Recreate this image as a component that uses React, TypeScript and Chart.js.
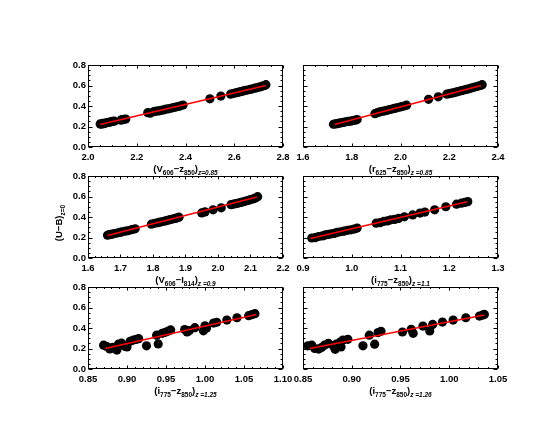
import React, { useEffect, useRef } from "react";
import { Chart, registerables } from "chart.js";

Chart.register(...registerables);

// ---------- Data ----------
// Panel 1: (V606 - z850) z=0.85
const p1X = [2.050, 2.055, 2.060, 2.065, 2.070, 2.078, 2.085, 2.092, 2.100, 2.108, 2.135, 2.140, 2.148, 2.155, 2.245, 2.255, 2.270, 2.280, 2.290, 2.300, 2.310, 2.320, 2.330, 2.340, 2.350, 2.360, 2.370, 2.380, 2.390, 2.500, 2.545, 2.585, 2.595, 2.605, 2.615, 2.625, 2.635, 2.645, 2.655, 2.665, 2.675, 2.685, 2.695, 2.705, 2.715, 2.725, 2.730];
const p1Y = [0.225, 0.222, 0.230, 0.228, 0.232, 0.238, 0.240, 0.245, 0.250, 0.252, 0.262, 0.268, 0.270, 0.272, 0.335, 0.330, 0.345, 0.350, 0.352, 0.358, 0.362, 0.370, 0.372, 0.378, 0.385, 0.390, 0.395, 0.402, 0.410, 0.470, 0.497, 0.515, 0.522, 0.528, 0.532, 0.540, 0.545, 0.552, 0.556, 0.562, 0.568, 0.574, 0.580, 0.586, 0.593, 0.600, 0.608];
const p1FitX = [2.05, 2.73];
const p1FitY = [0.22, 0.60];
const p1XTicks = [2.0, 2.2, 2.4, 2.6, 2.8];

// Panel 2: (r625 - z850) z=0.85
const p2X = [1.725, 1.732, 1.740, 1.748, 1.756, 1.765, 1.775, 1.785, 1.795, 1.805, 1.815, 1.822, 1.895, 1.905, 1.915, 1.925, 1.935, 1.945, 1.955, 1.965, 1.975, 1.985, 1.995, 2.005, 2.015, 2.025, 2.115, 2.155, 2.190, 2.200, 2.210, 2.220, 2.230, 2.240, 2.250, 2.260, 2.270, 2.280, 2.290, 2.300, 2.310, 2.320, 2.330, 2.335];
const p2Y = [0.222, 0.225, 0.228, 0.232, 0.236, 0.240, 0.246, 0.250, 0.252, 0.258, 0.262, 0.268, 0.325, 0.335, 0.342, 0.348, 0.352, 0.358, 0.365, 0.370, 0.376, 0.382, 0.388, 0.394, 0.400, 0.408, 0.465, 0.490, 0.515, 0.520, 0.525, 0.530, 0.537, 0.543, 0.550, 0.556, 0.562, 0.568, 0.575, 0.582, 0.588, 0.595, 0.602, 0.608];
const p2FitX = [1.73, 2.33];
const p2FitY = [0.22, 0.60];
const p2XTicks = [1.6, 1.8, 2.0, 2.2, 2.4];

// Panel 3: (V606 - I814) z=0.9
const p3X = [1.660, 1.665, 1.670, 1.675, 1.682, 1.690, 1.698, 1.705, 1.715, 1.725, 1.735, 1.745, 1.795, 1.805, 1.815, 1.822, 1.830, 1.838, 1.845, 1.852, 1.860, 1.868, 1.875, 1.880, 1.950, 1.960, 1.985, 2.010, 2.040, 2.048, 2.055, 2.063, 2.070, 2.078, 2.085, 2.093, 2.100, 2.108, 2.115, 2.122];
const p3Y = [0.222, 0.228, 0.230, 0.233, 0.238, 0.244, 0.250, 0.255, 0.262, 0.268, 0.276, 0.285, 0.330, 0.338, 0.345, 0.350, 0.356, 0.362, 0.368, 0.374, 0.380, 0.386, 0.392, 0.398, 0.440, 0.450, 0.470, 0.490, 0.520, 0.526, 0.530, 0.536, 0.542, 0.548, 0.555, 0.562, 0.570, 0.576, 0.585, 0.598];
const p3FitX = [1.66, 2.12];
const p3FitY = [0.22, 0.595];
const p3XTicks = [1.6, 1.7, 1.8, 1.9, 2.0, 2.1, 2.2];

// Panel 4: (i775 - z850) z=1.1
const p4X = [0.918, 0.925, 0.932, 0.940, 0.946, 0.952, 0.958, 0.964, 0.970, 0.977, 0.984, 0.991, 0.998, 1.005, 1.011, 1.050, 1.058, 1.066, 1.073, 1.080, 1.088, 1.096, 1.108, 1.125, 1.140, 1.150, 1.170, 1.193, 1.215, 1.225, 1.232, 1.238];
const p4Y = [0.195, 0.198, 0.210, 0.215, 0.225, 0.230, 0.236, 0.240, 0.250, 0.256, 0.262, 0.270, 0.275, 0.282, 0.292, 0.340, 0.345, 0.358, 0.362, 0.372, 0.376, 0.386, 0.402, 0.420, 0.438, 0.448, 0.470, 0.500, 0.525, 0.535, 0.542, 0.550];
const p4FitX = [0.915, 1.237];
const p4FitY = [0.19, 0.549];
const p4XTicks = [0.9, 1.0, 1.1, 1.2, 1.3];

// Panel 5: (i775 - z850) z=1.25
const p5X = [0.870, 0.874, 0.878, 0.882, 0.887, 0.889, 0.893, 0.897, 0.900, 0.904, 0.908, 0.912, 0.915, 0.925, 0.938, 0.940, 0.945, 0.949, 0.953, 0.956, 0.974, 0.977, 0.980, 0.987, 0.998, 1.000, 1.002, 1.011, 1.015, 1.028, 1.041, 1.056, 1.060, 1.064];
const p5Y = [0.232, 0.219, 0.196, 0.212, 0.185, 0.242, 0.252, 0.222, 0.215, 0.270, 0.282, 0.290, 0.296, 0.226, 0.330, 0.245, 0.348, 0.358, 0.370, 0.381, 0.385, 0.362, 0.375, 0.403, 0.372, 0.422, 0.400, 0.448, 0.456, 0.477, 0.500, 0.520, 0.530, 0.540];
const p5FitX = [0.872, 1.066];
const p5FitY = [0.20, 0.532];
const p5XTicks = [0.85, 0.90, 0.95, 1.00, 1.05, 1.10];

// Panel 6: (i775 - z850) z=1.26
const p6X = [0.855, 0.859, 0.862, 0.866, 0.869, 0.872, 0.876, 0.881, 0.883, 0.884, 0.888, 0.889, 0.891, 0.896, 0.9115, 0.918, 0.9235, 0.927, 0.930, 0.952, 0.961, 0.963, 0.973, 0.980, 0.983, 0.993, 1.004, 1.017, 1.031, 1.034, 1.036];
const p6Y = [0.226, 0.232, 0.200, 0.194, 0.210, 0.232, 0.250, 0.226, 0.192, 0.242, 0.262, 0.215, 0.282, 0.290, 0.226, 0.330, 0.242, 0.355, 0.368, 0.361, 0.387, 0.348, 0.419, 0.371, 0.435, 0.458, 0.477, 0.500, 0.516, 0.525, 0.532];
const p6FitX = [0.857, 1.036];
const p6FitY = [0.20, 0.526];
const p6XTicks = [0.85, 0.90, 0.95, 1.00, 1.05];

const yTicks = [0.0, 0.2, 0.4, 0.6, 0.8];

// ---------- Layout / style ----------
const FONT = '"Liberation Sans", Arial, Helvetica, sans-serif';
const LABEL_SIZE = 9.5;
const SUB_SIZE = 6.5;
const PANEL_W = 195;
const PANEL_H = 82;
const PAD_L = 45;
const PAD_T = 8;
const PAD_R = 20;
const AXIS_H = 40;

type Seg = { t: string; sub?: boolean; it?: boolean };

type PanelCfg = {
  left: number;
  top: number;
  xs: number[];
  ys: number[];
  fitX: number[];
  fitY: number[];
  xTicks: number[];
  xMinor: number;
  dec: number;
  showY: boolean;
  title: Seg[];
  yTitle?: Seg[];
};

const yTitleSegs: Seg[] = [{ t: "(U\u2212B)" }, { t: "z=0", sub: true }];

const panels: PanelCfg[] = [
  {
    left: 88, top: 65, xs: p1X, ys: p1Y, fitX: p1FitX, fitY: p1FitY, xTicks: p1XTicks, xMinor: 4, dec: 1, showY: true,
    title: [{ t: "(V" }, { t: "606", sub: true }, { t: "\u2212z" }, { t: "850", sub: true }, { t: ")" }, { t: "z=0.85", sub: true, it: true }],
  },
  {
    left: 303, top: 65, xs: p2X, ys: p2Y, fitX: p2FitX, fitY: p2FitY, xTicks: p2XTicks, xMinor: 4, dec: 1, showY: false,
    title: [{ t: "(r" }, { t: "625", sub: true }, { t: "\u2212z" }, { t: "850", sub: true }, { t: ")" }, { t: "z =0.85", sub: true, it: true }],
  },
  {
    left: 88, top: 176, xs: p3X, ys: p3Y, fitX: p3FitX, fitY: p3FitY, xTicks: p3XTicks, xMinor: 5, dec: 1, showY: true,
    title: [{ t: "(V" }, { t: "606", sub: true }, { t: "\u2212I" }, { t: "814", sub: true }, { t: ")" }, { t: "z =0.9", sub: true, it: true }],
    yTitle: yTitleSegs,
  },
  {
    left: 303, top: 176, xs: p4X, ys: p4Y, fitX: p4FitX, fitY: p4FitY, xTicks: p4XTicks, xMinor: 5, dec: 1, showY: false,
    title: [{ t: "(i" }, { t: "775", sub: true }, { t: "\u2212z" }, { t: "850", sub: true }, { t: ")" }, { t: "z =1.1", sub: true, it: true }],
  },
  {
    left: 88, top: 287, xs: p5X, ys: p5Y, fitX: p5FitX, fitY: p5FitY, xTicks: p5XTicks, xMinor: 5, dec: 2, showY: true,
    title: [{ t: "(i" }, { t: "775", sub: true }, { t: "\u2212z" }, { t: "850", sub: true }, { t: ")" }, { t: "z =1.25", sub: true, it: true }],
  },
  {
    left: 303, top: 287, xs: p6X, ys: p6Y, fitX: p6FitX, fitY: p6FitY, xTicks: p6XTicks, xMinor: 5, dec: 2, showY: false,
    title: [{ t: "(i" }, { t: "775", sub: true }, { t: "\u2212z" }, { t: "850", sub: true }, { t: ")" }, { t: "z =1.26", sub: true, it: true }],
  },
];

function segFont(s: Seg) {
  return `${s.it ? "italic " : ""}bold ${s.sub ? SUB_SIZE : LABEL_SIZE}px ${FONT}`;
}

function drawRich(ctx: CanvasRenderingContext2D, segs: Seg[], cx: number, baseline: number) {
  let total = 0;
  for (const s of segs) {
    ctx.font = segFont(s);
    total += ctx.measureText(s.t).width;
  }
  let x = cx - total / 2;
  ctx.textAlign = "left";
  ctx.textBaseline = "alphabetic";
  for (const s of segs) {
    ctx.font = segFont(s);
    ctx.fillText(s.t, x, s.sub ? baseline + 3 : baseline);
    x += ctx.measureText(s.t).width;
  }
}

function makeFramePlugin(p: PanelCfg) {
  return {
    id: "idlFrame",
    afterDraw(chart: any) {
      const { ctx, chartArea: a, scales } = chart;
      const xs = scales.x;
      const ys = scales.y;
      ctx.save();
      ctx.strokeStyle = "#000";
      ctx.fillStyle = "#000";
      ctx.lineWidth = 1;
      const L = a.left + 0.5;
      const R = a.right - 0.5;
      const T = a.top + 0.5;
      const B = a.bottom - 0.5;
      ctx.strokeRect(L, T, R - L, B - T);
      const seg = (x1: number, y1: number, x2: number, y2: number) => {
        ctx.beginPath();
        ctx.moveTo(x1, y1);
        ctx.lineTo(x2, y2);
        ctx.stroke();
      };
      // x ticks (inward, top & bottom)
      const xt = p.xTicks;
      for (let i = 0; i < xt.length; i++) {
        const px = Math.round(xs.getPixelForValue(xt[i])) + 0.5;
        seg(px, B, px, B - 3);
        seg(px, T, px, T + 3);
        if (i < xt.length - 1) {
          for (let k = 1; k < p.xMinor; k++) {
            const v = xt[i] + ((xt[i + 1] - xt[i]) * k) / p.xMinor;
            const mx = Math.round(xs.getPixelForValue(v)) + 0.5;
            seg(mx, B, mx, B - 1.5);
            seg(mx, T, mx, T + 1.5);
          }
        }
      }
      // y ticks (inward, left & right)
      for (let i = 0; i < yTicks.length; i++) {
        const py = Math.round(ys.getPixelForValue(yTicks[i])) + 0.5;
        seg(L, py, L + 4, py);
        seg(R, py, R - 4, py);
        if (i < yTicks.length - 1) {
          for (let k = 1; k < 4; k++) {
            const v = yTicks[i] + ((yTicks[i + 1] - yTicks[i]) * k) / 4;
            const my = Math.round(ys.getPixelForValue(v)) + 0.5;
            seg(L, my, L + 2, my);
            seg(R, my, R - 2, my);
          }
        }
      }
      // x-axis title
      drawRich(ctx, p.title, (a.left + a.right) / 2, a.bottom + 25);
      // y-axis title
      if (p.yTitle) {
        ctx.save();
        ctx.translate(19, (a.top + a.bottom) / 2 + 6);
        ctx.rotate(-Math.PI / 2);
        drawRich(ctx, p.yTitle, 0, 0);
        ctx.restore();
      }
      ctx.restore();
    },
  };
}

function Panel({ p }: { p: PanelCfg }) {
  const ref = useRef<HTMLCanvasElement | null>(null);
  useEffect(() => {
    if (!ref.current) return;
    const points = p.xs.map((x, i) => ({ x, y: p.ys[i] }));
    const fit = p.fitX.map((x, i) => ({ x, y: p.fitY[i] }));
    const tickFont = { family: FONT, size: LABEL_SIZE, weight: "bold" as const };
    const chart = new Chart(ref.current, {
      type: "scatter",
      data: {
        datasets: [
          {
            data: fit,
            showLine: true,
            borderColor: "#ff0000",
            borderWidth: 1.5,
            pointRadius: 0,
            fill: false,
          },
          {
            data: points,
            pointRadius: 4.6,
            pointStyle: "circle",
            backgroundColor: "#000",
            borderWidth: 0,
          },
        ],
      },
      options: {
        animation: false,
        responsive: false,
        events: [],
        layout: { padding: { left: 0, top: PAD_T, right: PAD_R, bottom: 0 } },
        plugins: { legend: { display: false }, tooltip: { enabled: false } },
        scales: {
          x: {
            type: "linear",
            min: p.xTicks[0],
            max: p.xTicks[p.xTicks.length - 1],
            grid: { display: false, drawTicks: false },
            border: { display: false },
            afterBuildTicks: (s: any) => {
              s.ticks = p.xTicks.map((v) => ({ value: v }));
            },
            afterFit: (s: any) => {
              s.height = AXIS_H;
            },
            ticks: {
              autoSkip: false,
              maxRotation: 0,
              minRotation: 0,
              padding: 5,
              color: "#000",
              font: tickFont,
              callback: (v: any) => Number(v).toFixed(p.dec),
            },
          },
          y: {
            type: "linear",
            min: yTicks[0],
            max: yTicks[yTicks.length - 1],
            grid: { display: false, drawTicks: false },
            border: { display: false },
            afterBuildTicks: (s: any) => {
              s.ticks = yTicks.map((v) => ({ value: v }));
            },
            afterFit: (s: any) => {
              s.width = PAD_L;
            },
            ticks: {
              display: p.showY,
              autoSkip: false,
              padding: 2,
              color: "#000",
              font: tickFont,
              callback: (v: any) => Number(v).toFixed(1),
            },
          },
        },
      },
      plugins: [makeFramePlugin(p)],
    } as any);
    return () => chart.destroy();
  }, [p]);
  const w = PAD_L + PANEL_W + PAD_R;
  const h = PAD_T + PANEL_H + AXIS_H;
  return (
    <canvas
      ref={ref}
      width={w}
      height={h}
      style={{ position: "absolute", left: p.left - PAD_L, top: p.top - PAD_T, width: w, height: h }}
    />
  );
}

export default function App() {
  return (
    <div style={{ position: "fixed", left: 0, top: 0, width: 550, height: 425, background: "#fff" }}>
      {panels.map((p, i) => (
        <Panel key={i} p={p} />
      ))}
    </div>
  );
}
